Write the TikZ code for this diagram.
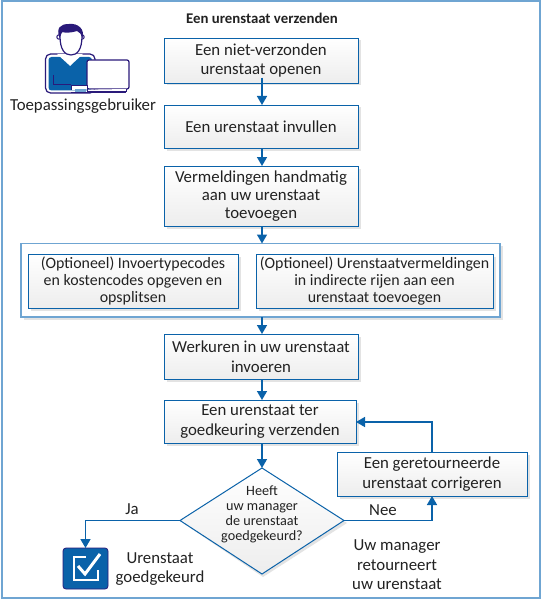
\documentclass[tikz,border=0pt]{standalone}
\usepackage{fontspec}
\setmainfont{Carlito}
\usetikzlibrary{arrows.meta,calc}
\definecolor{fl}{HTML}{0A62A9}
\definecolor{frame}{HTML}{6FA5D2}
\definecolor{navy}{HTML}{2A1A7A}
\definecolor{txt}{HTML}{222222}
\newcommand{\fmain}{\fontsize{16.8}{19.6}\selectfont}
\newcommand{\fthree}{\fontsize{16.8}{18.3}\selectfont}
\newcommand{\finner}{\fontsize{15.9}{17}\selectfont}
\newcommand{\fdiam}{\fontsize{14.2}{15}\selectfont}
\tikzset{
 x=1pt,y=-1pt,
 every node/.style={font=\fmain,text=txt,align=center,inner sep=0pt},
 flow/.style={draw=fl,line width=1.5pt,-{Triangle[length=9pt,width=10pt]}},
}
\newcommand{\procbox}[7][\fmain]{% font name x0 y0 x1 y1 text
 \fill[black!11] (#3+2.5,#4+2.5) rectangle (#5+2.5,#6+2.5);
 \draw[fl,line width=0.9pt,top color=white,bottom color=black!7] (#3,#4) rectangle (#5,#6);
 \node[font=#1] (#2) at ({(#3+#5)/2},{(#4+#6)/2}) {#7};
}
\begin{document}
\begin{tikzpicture}
\useasboundingbox (0,0) rectangle (542,599);
\fill[white] (0,0) rectangle (542,599);
\draw[frame,line width=2pt] (1.5,1.5) rectangle (540,597.5);
\node[font=\fontsize{14.8}{18}\selectfont\bfseries] (title) at (262,18) {Een urenstaat verzenden};
% user icon
\begin{scope}
 \draw[navy,line width=1.2pt,fill=white,rounded corners=5pt] (45.5,54) rectangle (95,93);
 \fill[fl,rounded corners=3pt] (48.5,57) rectangle (92,90.5);
 \fill[white] (57,54) -- (83,54) -- (72,64) -- (70,66) -- (68,64) -- cycle;
 \draw[navy,line width=1pt] (53,75) -- (53,84.5) -- (71,84.5);
 \draw[navy,line width=1.2pt,fill=white,rounded corners=2pt] (87,60) rectangle (129,89);
 \draw[navy,line width=1pt,fill=white] (71,90) -- (71,85.5) -- (87,85.5) -- (87,92) -- (126,92) -- (126,89);
 \fill[frame] (75,89) rectangle (86,92);
 \draw[navy,line width=1pt] (71,92.5) -- (126,92.5);
 \draw[navy,line width=1pt,fill=white] (59,37) circle (2.2);
 \draw[navy,line width=1pt,fill=white] (82,37) circle (2.2);
 \draw[navy,line width=1.2pt,fill=white] (60,36) .. controls (60,50) and (65,55) .. (71,55) .. controls (77,55) and (82,50) .. (82,36) .. controls (82,26) and (60,26) .. (60,36) -- cycle;
 \fill[navy] (59.5,38) .. controls (56,28) and (60,24) .. (69,24) .. controls (78,23) and (85,29) .. (82.5,38) .. controls (81,34) and (80,32) .. (77,31) .. controls (71,33) and (65,33) .. (62,32) .. controls (61,34) and (60,35) .. (59.5,38) -- cycle;
\end{scope}
\node (user) at (83,106.5) {Toepassingsgebruiker};
% boxes
\procbox{a}{164}{38}{358}{83}{Een niet-verzonden\\urenstaat openen}
\procbox{b}{164}{105}{358}{148}{Een urenstaat invullen}
\procbox[\fthree]{c}{164}{166}{358}{226}{Vermeldingen handmatig\\aan uw urenstaat\\toevoegen}
\fill[black!11] (23.5,246) rectangle (502.5,319.5);
\draw[frame,line width=1.2pt,fill=white] (21,243.5) rectangle (500,317);
\coordinate (gtop) at (262,243.5);
\coordinate (gbot) at (262,317);
\procbox[\finner]{d}{28}{254}{238}{308}{(Optioneel) Invoertypecodes\\en kostencodes opgeven en\\opsplitsen}
\procbox[\finner]{e}{256}{254}{493}{308}{(Optioneel) Urenstaatvermeldingen\\in indirecte rijen aan een\\urenstaat toevoegen}
\procbox{f}{164}{334}{358}{379}{Werkuren in uw urenstaat\\invoeren}
\procbox{g}{164}{400}{356}{443}{Een urenstaat ter\\goedkeuring verzenden}
\procbox{h}{337}{452}{527}{496}{Een geretourneerde\\urenstaat corrigeren}
% diamond
\fill[black!11] (183,523) -- (263,471) -- (347,523) -- (263,577) -- cycle;
\draw[fl,line width=1pt,top color=white,bottom color=black!7] (180,520.5) -- (262,468) -- (344,520.5) -- (262,574) -- cycle;
\coordinate (dw) at (180,520.5);
\coordinate (de) at (344,520.5);
\coordinate (dn) at (262,468);
\node[font=\fdiam] (q) at (262,514.5) {Heeft\\uw manager\\de urenstaat\\goedgekeurd?};
% outcome icon
\draw[navy,line width=0.8pt,fill=fl,rounded corners=3pt] (63,548) rectangle (108,589);
\coordinate (icon) at (85.5,548);
\draw[white,line width=1.3pt] (74,557) rectangle (98,580);
\fill[fl] (86,553) rectangle (104,570);
\draw[white,line width=3pt] (78,566) -- (85,574) -- (100,554);
\node (ok) at (160,569) {Urenstaat\\goedgekeurd};
% connectors
\draw[flow] (a.south -| 262,83) -- (262,105);
\draw[flow] (262,148) -- (262,166);
\draw[flow] (262,226) -- (gtop);
\draw[flow] (gbot) -- (262,334);
\draw[flow] (262,379) -- (262,400);
\draw[flow] (262,443) -- (dn);
\draw[flow] (dw) -- (85.5,520.5) -- (icon);
\draw[flow] (de) -- (432,520.5) -- (432,496);
\draw[flow] (432,452) -- (432,422) -- (356,422);
\node (ja) at (132,509) {Ja};
\node (nee) at (383,510) {Nee};
\node (ret) at (397,565) {Uw manager\\retourneert\\uw urenstaat};
\end{tikzpicture}
\end{document}
